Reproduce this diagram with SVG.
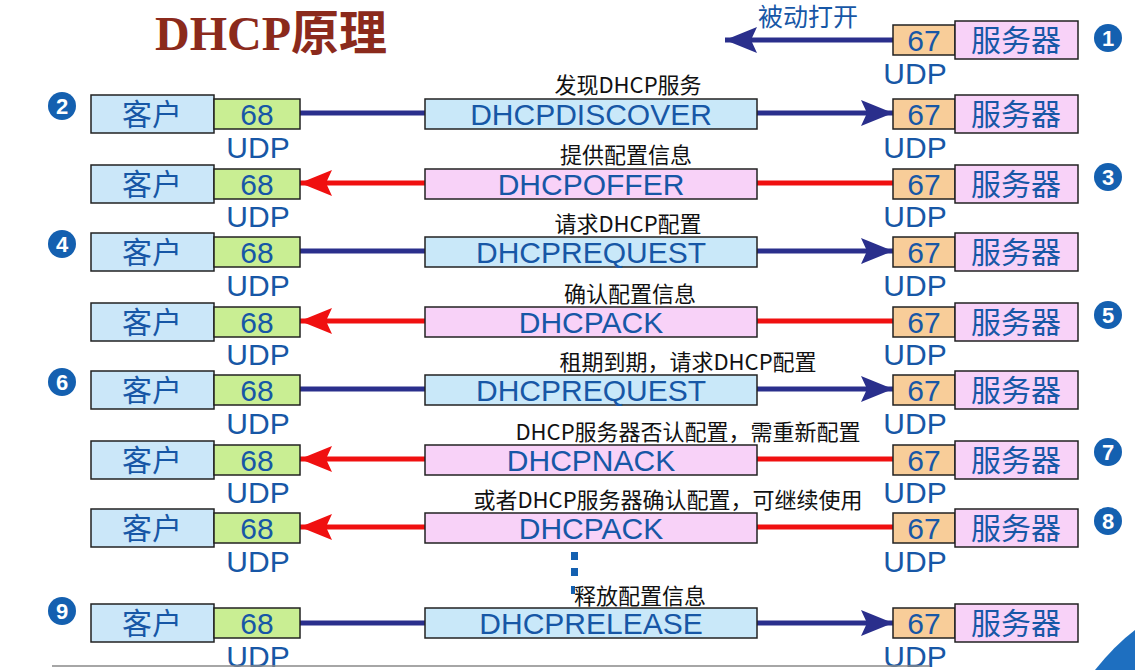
<svg xmlns="http://www.w3.org/2000/svg" width="1135" height="670" viewBox="0 0 1135 670">
<defs>
<style>
.bx{stroke:#222;stroke-width:1.5}
.cl{fill:#cbe7f9}.p68{fill:#c9ee93}.p67{fill:#f8cd99}.sv{fill:#f8d2f8}.mb{fill:#c9e8f9}.mp{fill:#f8d2f8}
.t{font-family:"Liberation Sans","Noto Sans CJK SC",sans-serif;fill:#1757a6;text-anchor:middle}
.big{font-size:30px}.udp{font-size:30px}
.lab{font-family:"Noto Sans CJK SC",sans-serif;font-size:22px;fill:#111;text-anchor:middle}
.num{font-family:"Liberation Sans",sans-serif;font-size:22px;font-weight:bold;fill:#fff;text-anchor:middle}
.blue{stroke:#2a2f8c;stroke-width:5}.red{stroke:#f01010;stroke-width:5}
</style>
<marker id="ab" markerUnits="userSpaceOnUse" markerWidth="32" markerHeight="26" refX="32" refY="13" orient="auto"><path d="M0,0 L32,13 L0,26 L6,13 Z" fill="#2a2f8c"/></marker>
<marker id="ar" markerUnits="userSpaceOnUse" markerWidth="32" markerHeight="26" refX="32" refY="13" orient="auto"><path d="M0,0 L32,13 L0,26 L6,13 Z" fill="#f01010"/></marker>
</defs>
<rect width="1135" height="670" fill="#fff"/>
<text x="271" y="50" font-family="Liberation Serif,Noto Sans CJK SC,serif" font-size="48" font-weight="bold" fill="#8b2a1c" text-anchor="middle">DHCP原理</text>

<g id="connectors">
<line class="blue" x1="893" y1="40" x2="725" y2="40" marker-end="url(#ab)"/>
<line class="blue" x1="300" y1="113" x2="893" y2="113" marker-end="url(#ab)"/>
<line class="red" x1="893" y1="183" x2="300" y2="183" marker-end="url(#ar)"/>
<line class="blue" x1="300" y1="251" x2="893" y2="251" marker-end="url(#ab)"/>
<line class="red" x1="893" y1="321" x2="300" y2="321" marker-end="url(#ar)"/>
<line class="blue" x1="300" y1="389" x2="893" y2="389" marker-end="url(#ab)"/>
<line class="red" x1="893" y1="459" x2="300" y2="459" marker-end="url(#ar)"/>
<line class="red" x1="893" y1="527" x2="300" y2="527" marker-end="url(#ar)"/>
<line class="blue" x1="300" y1="623" x2="893" y2="623" marker-end="url(#ab)"/>
</g>

<g id="row1">
<text class="t" x="808" y="26" font-size="25">被动打开</text>
<rect class="bx p67" x="893" y="25" width="62" height="30"/><text class="t big" x="924" y="51">67</text>
<rect class="bx sv" x="955" y="21" width="123" height="38"/><text class="t big" x="1016" y="51">服务器</text>
<text class="t udp" x="915" y="84">UDP</text>
<circle cx="1108" cy="38" r="14" fill="#1460b0"/><text class="num" x="1108" y="46">1</text>
</g>

<g id="row2">
<rect class="bx cl" x="91" y="95" width="123" height="38"/><text class="t big" x="152" y="125">客户</text>
<rect class="bx p68" x="214" y="99" width="86" height="30"/><text class="t big" x="257" y="125">68</text>
<text class="t udp" x="258" y="158">UDP</text>
<rect class="bx mb" x="425" y="99" width="332" height="30"/><text class="t big" x="591" y="125">DHCPDISCOVER</text>
<text class="lab" x="628" y="93">发现DHCP服务</text>
<rect class="bx p67" x="893" y="99" width="62" height="30"/><text class="t big" x="924" y="125">67</text>
<rect class="bx sv" x="955" y="95" width="123" height="38"/><text class="t big" x="1016" y="125">服务器</text>
<text class="t udp" x="915" y="158">UDP</text>
<circle cx="62" cy="106" r="14" fill="#1460b0"/><text class="num" x="62" y="114">2</text>
</g>

<g id="row3">
<rect class="bx cl" x="91" y="165" width="123" height="38"/><text class="t big" x="152" y="195">客户</text>
<rect class="bx p68" x="214" y="169" width="86" height="30"/><text class="t big" x="257" y="195">68</text>
<text class="t udp" x="258" y="227">UDP</text>
<rect class="bx mp" x="425" y="169" width="332" height="30"/><text class="t big" x="591" y="195">DHCPOFFER</text>
<text class="lab" x="626" y="163">提供配置信息</text>
<rect class="bx p67" x="893" y="169" width="62" height="30"/><text class="t big" x="924" y="195">67</text>
<rect class="bx sv" x="955" y="165" width="123" height="38"/><text class="t big" x="1016" y="195">服务器</text>
<text class="t udp" x="915" y="227">UDP</text>
<circle cx="1108" cy="177" r="14" fill="#1460b0"/><text class="num" x="1108" y="185">3</text>
</g>

<g id="row4">
<rect class="bx cl" x="91" y="233" width="123" height="38"/><text class="t big" x="152" y="263">客户</text>
<rect class="bx p68" x="214" y="237" width="86" height="30"/><text class="t big" x="257" y="263">68</text>
<text class="t udp" x="258" y="296">UDP</text>
<rect class="bx mb" x="425" y="237" width="332" height="30"/><text class="t big" x="591" y="263">DHCPREQUEST</text>
<text class="lab" x="628" y="232">请求DHCP配置</text>
<rect class="bx p67" x="893" y="237" width="62" height="30"/><text class="t big" x="924" y="263">67</text>
<rect class="bx sv" x="955" y="233" width="123" height="38"/><text class="t big" x="1016" y="263">服务器</text>
<text class="t udp" x="915" y="296">UDP</text>
<circle cx="62" cy="244" r="14" fill="#1460b0"/><text class="num" x="62" y="252">4</text>
</g>

<g id="row5">
<rect class="bx cl" x="91" y="303" width="123" height="38"/><text class="t big" x="152" y="333">客户</text>
<rect class="bx p68" x="214" y="307" width="86" height="30"/><text class="t big" x="257" y="333">68</text>
<text class="t udp" x="258" y="365">UDP</text>
<rect class="bx mp" x="425" y="307" width="332" height="30"/><text class="t big" x="591" y="333">DHCPACK</text>
<text class="lab" x="630" y="302">确认配置信息</text>
<rect class="bx p67" x="893" y="307" width="62" height="30"/><text class="t big" x="924" y="333">67</text>
<rect class="bx sv" x="955" y="303" width="123" height="38"/><text class="t big" x="1016" y="333">服务器</text>
<text class="t udp" x="915" y="365">UDP</text>
<circle cx="1108" cy="315" r="14" fill="#1460b0"/><text class="num" x="1108" y="323">5</text>
</g>

<g id="row6">
<rect class="bx cl" x="91" y="371" width="123" height="38"/><text class="t big" x="152" y="401">客户</text>
<rect class="bx p68" x="214" y="375" width="86" height="30"/><text class="t big" x="257" y="401">68</text>
<text class="t udp" x="258" y="434">UDP</text>
<rect class="bx mb" x="425" y="375" width="332" height="30"/><text class="t big" x="591" y="401">DHCPREQUEST</text>
<text class="lab" x="688" y="370">租期到期，请求DHCP配置</text>
<rect class="bx p67" x="893" y="375" width="62" height="30"/><text class="t big" x="924" y="401">67</text>
<rect class="bx sv" x="955" y="371" width="123" height="38"/><text class="t big" x="1016" y="401">服务器</text>
<text class="t udp" x="915" y="434">UDP</text>
<circle cx="62" cy="382" r="14" fill="#1460b0"/><text class="num" x="62" y="390">6</text>
</g>

<g id="row7">
<rect class="bx cl" x="91" y="441" width="123" height="38"/><text class="t big" x="152" y="471">客户</text>
<rect class="bx p68" x="214" y="445" width="86" height="30"/><text class="t big" x="257" y="471">68</text>
<text class="t udp" x="258" y="503">UDP</text>
<rect class="bx mp" x="425" y="445" width="332" height="30"/><text class="t big" x="591" y="471">DHCPNACK</text>
<text class="lab" x="688" y="440">DHCP服务器否认配置，需重新配置</text>
<rect class="bx p67" x="893" y="445" width="62" height="30"/><text class="t big" x="924" y="471">67</text>
<rect class="bx sv" x="955" y="441" width="123" height="38"/><text class="t big" x="1016" y="471">服务器</text>
<text class="t udp" x="915" y="503">UDP</text>
<circle cx="1108" cy="452" r="14" fill="#1460b0"/><text class="num" x="1108" y="460">7</text>
</g>

<g id="row8">
<rect class="bx cl" x="91" y="509" width="123" height="38"/><text class="t big" x="152" y="539">客户</text>
<rect class="bx p68" x="214" y="513" width="86" height="30"/><text class="t big" x="257" y="539">68</text>
<text class="t udp" x="258" y="572">UDP</text>
<rect class="bx mp" x="425" y="513" width="332" height="30"/><text class="t big" x="591" y="539">DHCPACK</text>
<text class="lab" x="668" y="508">或者DHCP服务器确认配置，可继续使用</text>
<rect class="bx p67" x="893" y="513" width="62" height="30"/><text class="t big" x="924" y="539">67</text>
<rect class="bx sv" x="955" y="509" width="123" height="38"/><text class="t big" x="1016" y="539">服务器</text>
<text class="t udp" x="915" y="572">UDP</text>
<circle cx="1108" cy="521" r="14" fill="#1460b0"/><text class="num" x="1108" y="529">8</text>
</g>

<g id="dots" fill="#1460b0">
<rect x="571" y="552" width="7" height="8"/><rect x="571" y="568" width="7" height="8"/><rect x="571" y="586" width="4" height="8"/>
</g>

<g id="row9">
<rect class="bx cl" x="91" y="604" width="123" height="38"/><text class="t big" x="152" y="634">客户</text>
<rect class="bx p68" x="214" y="608" width="86" height="30"/><text class="t big" x="257" y="634">68</text>
<text class="t udp" x="258" y="667">UDP</text>
<rect class="bx mb" x="425" y="608" width="332" height="30"/><text class="t big" x="591" y="634">DHCPRELEASE</text>
<text class="lab" x="640" y="604">释放配置信息</text>
<rect class="bx p67" x="893" y="608" width="62" height="30"/><text class="t big" x="924" y="634">67</text>
<rect class="bx sv" x="955" y="604" width="123" height="38"/><text class="t big" x="1016" y="634">服务器</text>
<text class="t udp" x="915" y="667">UDP</text>
<circle cx="62" cy="611" r="14" fill="#1460b0"/><text class="num" x="62" y="619">9</text>
</g>

<line x1="52" y1="666" x2="930" y2="666" stroke="#888" stroke-width="1.5"/>
<path d="M1095,670 Q1115,645 1135,630 L1135,670 Z" fill="#1e6fc0"/>
</svg>
